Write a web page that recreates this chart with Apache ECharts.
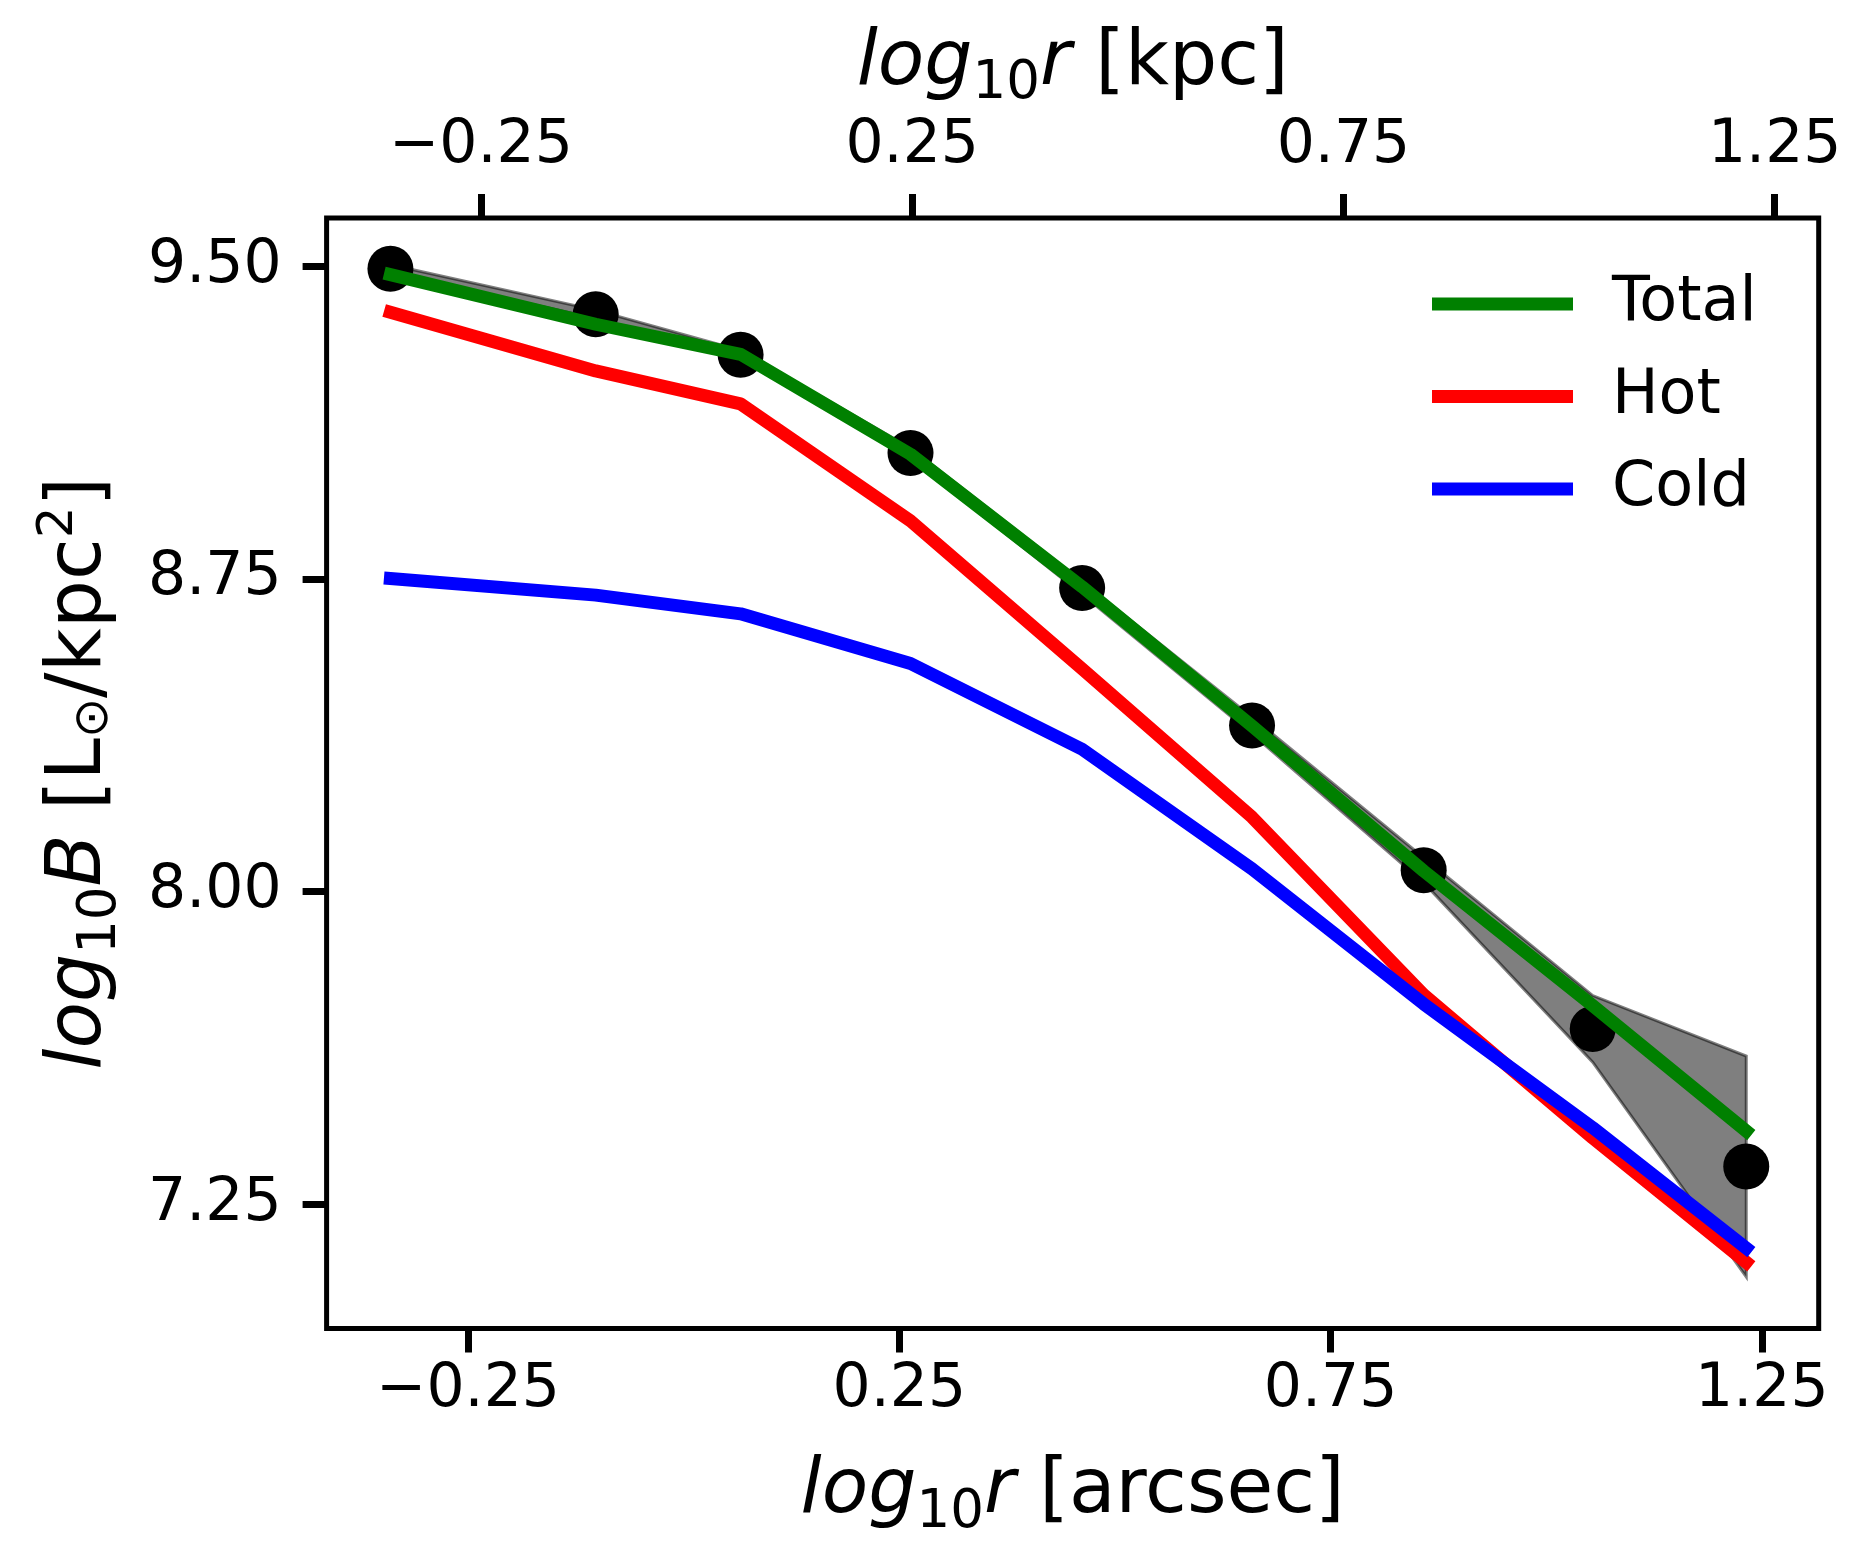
<!DOCTYPE html>
<html>
<head>
<meta charset="utf-8">
<script src="https://cdn.jsdelivr.net/npm/echarts@6/dist/echarts.min.js"></script>
<style>
  html, body { margin: 0; padding: 0; background: #fff; }
  #main { width: 1870px; height: 1561px; }
</style>
</head>
<body>
<div id="main"></div>
<script>
// radii (log10 r, arcsec) of the profile bins
var radiusArcsec = [-0.34, -0.102, 0.066, 0.263, 0.462, 0.659, 0.858, 1.054, 1.232];
// observed surface brightness and its error
var dataLogB = [9.494, 9.385, 9.288, 9.052, 8.728, 8.398, 8.051, 7.670, 7.340];
var dataErr = [0.01, 0.01, 0.01, 0.012, 0.015, 0.02, 0.03, 0.08, 0.265];
// model components
var totalLogB = [9.480, 9.361, 9.289, 9.049, 8.731, 8.397, 8.049, 7.726, 7.425];
var hotLogB = [9.390, 9.249, 9.170, 8.889, 8.534, 8.178, 7.752, 7.408, 7.110];
var coldLogB = [8.751, 8.711, 8.666, 8.547, 8.341, 8.054, 7.730, 7.433, 7.144];
// tick labels
var xTicks = [-0.25, 0.25, 0.75, 1.25];
var yTicks = [7.25, 8.00, 8.75, 9.50];

var FONT = 'DejaVu Sans';

function pairs(xs, ys) {
  var out = [];
  for (var i = 0; i < xs.length; i++) out.push([xs[i], ys[i]]);
  return out;
}
var bandData = [];
for (var i = 0; i < radiusArcsec.length; i++) {
  bandData.push([radiusArcsec[i], dataLogB[i] - dataErr[i], dataLogB[i] + dataErr[i]]);
}

function fmt(v) {
  var s = Math.abs(v).toFixed(2);
  return v < 0 ? '\u2212' + s : s;
}

// mathtext-like pieces for the axis titles (height only moves the token up/down)
var titleRich = {
  it: { fontStyle: 'italic', fontSize: 76, fontFamily: FONT, color: '#000' },
  sub: { fontSize: 53, fontFamily: FONT, color: '#000', verticalAlign: 'bottom', height: 35, lineHeight: 24 },
  sun: { fontSize: 48, fontFamily: FONT, color: '#000', verticalAlign: 'bottom', lineHeight: 24 },
  sup: { fontSize: 50, fontFamily: FONT, color: '#000', verticalAlign: 'top', height: 32, lineHeight: 24 }
};

function tickStyle(vals) {
  return { show: true, inside: false, length: 24, customValues: vals, lineStyle: { color: '#000', width: 7 } };
}

var chart = echarts.init(document.getElementById('main'));
var option = {
  animation: false,
  backgroundColor: '#fff',
  grid: {
    left: 326.6, right: 51.3, top: 218, bottom: 232.5,
    containLabel: false, outerBoundsMode: 'none',
    show: true, borderColor: '#000', borderWidth: 5, backgroundColor: 'transparent'
  },
  legend: {
    data: ['Total', 'Hot', 'Cold'],
    orient: 'vertical',
    left: 1432, top: 273, padding: 0,
    itemWidth: 141, itemHeight: 13, itemGap: 30.5,
    icon: 'rect',
    textStyle: { fontSize: 62, fontFamily: FONT, color: '#000', lineHeight: 61, padding: [0, 0, 0, 34] }
  },
  xAxis: [{
    type: 'value', position: 'bottom', min: -0.414, max: 1.316,
    axisLine: { show: false, onZero: false },
    axisTick: tickStyle(xTicks),
    axisLabel: { customValues: xTicks, formatter: fmt, fontSize: 60, fontFamily: FONT, color: '#000', margin: 32 },
    splitLine: { show: false },
    name: '{it|log}{sub|10}{it|r} [arcsec]',
    nameLocation: 'middle', nameGap: 126,
    nameTextStyle: { fontSize: 76, fontFamily: FONT, color: '#000', rich: titleRich }
  }, {
    type: 'value', position: 'top', min: -0.429, max: 1.301,
    axisLine: { show: false, onZero: false },
    axisTick: tickStyle(xTicks),
    axisLabel: { customValues: xTicks, formatter: fmt, fontSize: 60, fontFamily: FONT, color: '#000', margin: 42 },
    splitLine: { show: false },
    name: '{it|log}{sub|10}{it|r} [kpc]',
    nameLocation: 'middle', nameGap: 112,
    nameTextStyle: { fontSize: 76, fontFamily: FONT, color: '#000', rich: titleRich }
  }],
  yAxis: {
    type: 'value', min: 6.951, max: 9.616,
    axisLine: { show: false, onZero: false },
    axisTick: tickStyle(yTicks),
    axisLabel: { customValues: yTicks, formatter: fmt, fontSize: 60, fontFamily: FONT, color: '#000', margin: 45 },
    splitLine: { show: false },
    name: '{it|log}{sub|10}{it|B} [L{sun|\u2299}/kpc{sup|2}]',
    nameLocation: 'middle', nameGap: 208,
    nameTextStyle: { fontSize: 76, fontFamily: FONT, color: '#000', rich: titleRich }
  },
  series: [{
    name: 'band',
    type: 'custom',
    xAxisIndex: 0,
    data: bandData,
    encode: { x: 0, y: [1, 2] },
    silent: true,
    z: 1,
    renderItem: function (params, api) {
      if (params.dataIndex !== 0) return;
      var pts = [];
      for (var k = 0; k < bandData.length; k++) pts.push(api.coord([bandData[k][0], bandData[k][2]]));
      for (var k = bandData.length - 1; k >= 0; k--) pts.push(api.coord([bandData[k][0], bandData[k][1]]));
      return {
        type: 'polygon',
        shape: { points: pts },
        style: { fill: 'rgba(0,0,0,0.5)', stroke: 'rgba(0,0,0,0.5)', lineWidth: 3 }
      };
    }
  }, {
    name: 'data',
    type: 'scatter',
    xAxisIndex: 0,
    data: pairs(radiusArcsec, dataLogB),
    symbolSize: 46,
    itemStyle: { color: '#000', opacity: 1 },
    silent: true,
    z: 2
  }, {
    name: 'Total', type: 'line', xAxisIndex: 0,
    data: pairs(radiusArcsec, totalLogB),
    showSymbol: false, symbol: 'none',
    itemStyle: { color: '#008000' },
    lineStyle: { color: '#008000', width: 13, cap: 'square', join: 'round' },
    z: 3
  }, {
    name: 'Hot', type: 'line', xAxisIndex: 0,
    data: pairs(radiusArcsec, hotLogB),
    showSymbol: false, symbol: 'none',
    itemStyle: { color: '#ff0000' },
    lineStyle: { color: '#ff0000', width: 13, cap: 'square', join: 'round' },
    z: 4
  }, {
    name: 'Cold', type: 'line', xAxisIndex: 0,
    data: pairs(radiusArcsec, coldLogB),
    showSymbol: false, symbol: 'none',
    itemStyle: { color: '#0000ff' },
    lineStyle: { color: '#0000ff', width: 13, cap: 'square', join: 'round' },
    z: 5
  }]
};
chart.setOption(option);
</script>
</body>
</html>
